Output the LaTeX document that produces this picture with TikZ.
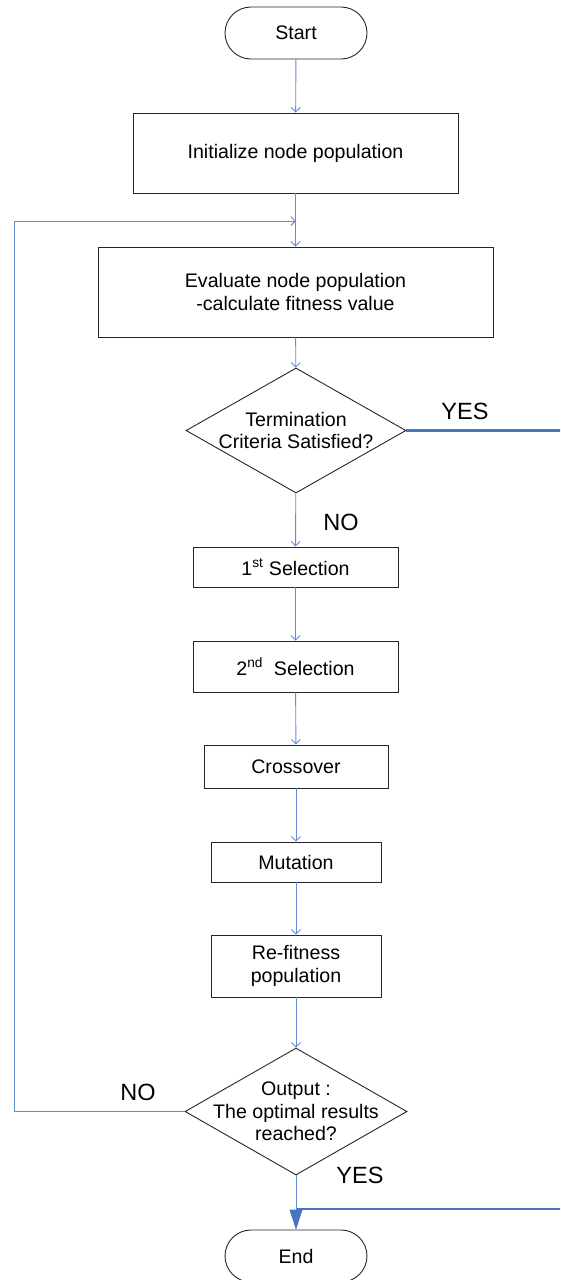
\documentclass[tikz,border=0pt]{standalone}
\usepackage{fontspec}
\setmainfont{Liberation Sans}
\usetikzlibrary{arrows.meta,shapes.geometric,calc}
\definecolor{flowblue}{RGB}{100,140,210}
\definecolor{yesblue}{RGB}{70,118,194}
\newcommand\mainfs{\fontsize{19.6}{22.5}\selectfont}
\newcommand\lblfs{\fontsize{23.5}{26}\selectfont}
\begin{document}
\begin{tikzpicture}[x=1pt,y=-1pt,
  box/.style={draw=black!85, line width=0.9pt, inner sep=0pt, align=center, font=\mainfs},
  term/.style={draw=black!85, line width=0.9pt, rounded corners=26pt, minimum width=142pt, minimum height=52pt, inner sep=0pt, font=\mainfs},
  dia/.style={draw=black!85, line width=0.9pt, diamond, inner sep=0pt},
  dtext/.style={align=center, font=\mainfs, inner sep=0pt},
  lbl/.style={font=\lblfs, inner sep=0pt},
  flow/.style={draw=flowblue, line width=0.9pt, -{Straight Barb[length=4.5pt,width=9pt]}},
  yesline/.style={draw=yesblue, line width=2.6pt}
]
\useasboundingbox (0,0) rectangle (560,1280);
\clip (0,0) rectangle (560,1280);

% nodes
\node[term] (start) at (296,33) {Start};
\node[box, minimum width=325pt, minimum height=80pt] (init) at (295.5,153) {Initialize node population};
\node[box, minimum width=395pt, minimum height=90pt] (eval) at (295.5,292) {Evaluate node population\\-calculate fitness value};
\node[dia, minimum width=220pt, minimum height=125pt] (dec1) at (296,430.5) {};
\node[dtext] (dec1t) at (dec1.center) {Termination\\Criteria Satisfied?};
\node[box, minimum width=205pt, minimum height=40pt] (sel1) at (295.5,567) {1\textsuperscript{st} Selection};
\node[box, minimum width=205pt, minimum height=51pt] (sel2) at (295.5,666.5) {2\textsuperscript{nd}\ \ Selection};
\node[box, minimum width=184pt, minimum height=43pt] (cross) at (296,766.5) {Crossover};
\node[box, minimum width=170pt, minimum height=40pt] (mut) at (296,862) {Mutation};
\node[box, minimum width=170pt, minimum height=62pt] (refit) at (296,966) {Re-fitness\\population};
\node[dia, minimum width=222pt, minimum height=127pt] (dec2) at (296,1111.5) {};
\node[dtext] (dec2t) at (dec2.center) {Output :\\The optimal results\\reached?};
\node[term] (endn) at (296,1256) {End};

% labels
\node[lbl] (yes1) at (465,411) {YES};
\node[lbl] (no1) at (341,522) {NO};
\node[lbl] (no2) at (138,1092) {NO};
\node[lbl] (yes2) at (360,1175) {YES};

% helper coordinates
\coordinate (join) at (296,221);
\coordinate (loopx) at (14,0);
\coordinate (merge) at (296,1209);
\coordinate (rightx) at (600,0);

% connectors
\draw[flow] (start) -- (init);
\draw[flow] (init) -- (eval);
\draw[flow] (eval) -- (dec1);
\draw[flow] (dec1) -- (sel1);
\draw[flow] (sel1) -- (sel2);
\draw[flow] (sel2) -- (cross);
\draw[flow] (cross) -- (mut);
\draw[flow] (mut) -- (refit);
\draw[flow] (refit) -- (dec2);
\draw[flow] (dec2.west) -- (dec2.west -| loopx) -- (loopx |- join) -- (join);
\draw[yesline] (dec1.east) -- (dec1.east -| rightx) -- (rightx |- merge) -- (merge);
\draw[draw=flowblue, line width=0.9pt, -{Triangle[length=20pt,width=13pt,fill=yesblue,color=yesblue]}] (dec2.south) -- (endn.north);
\end{tikzpicture}
\end{document}
